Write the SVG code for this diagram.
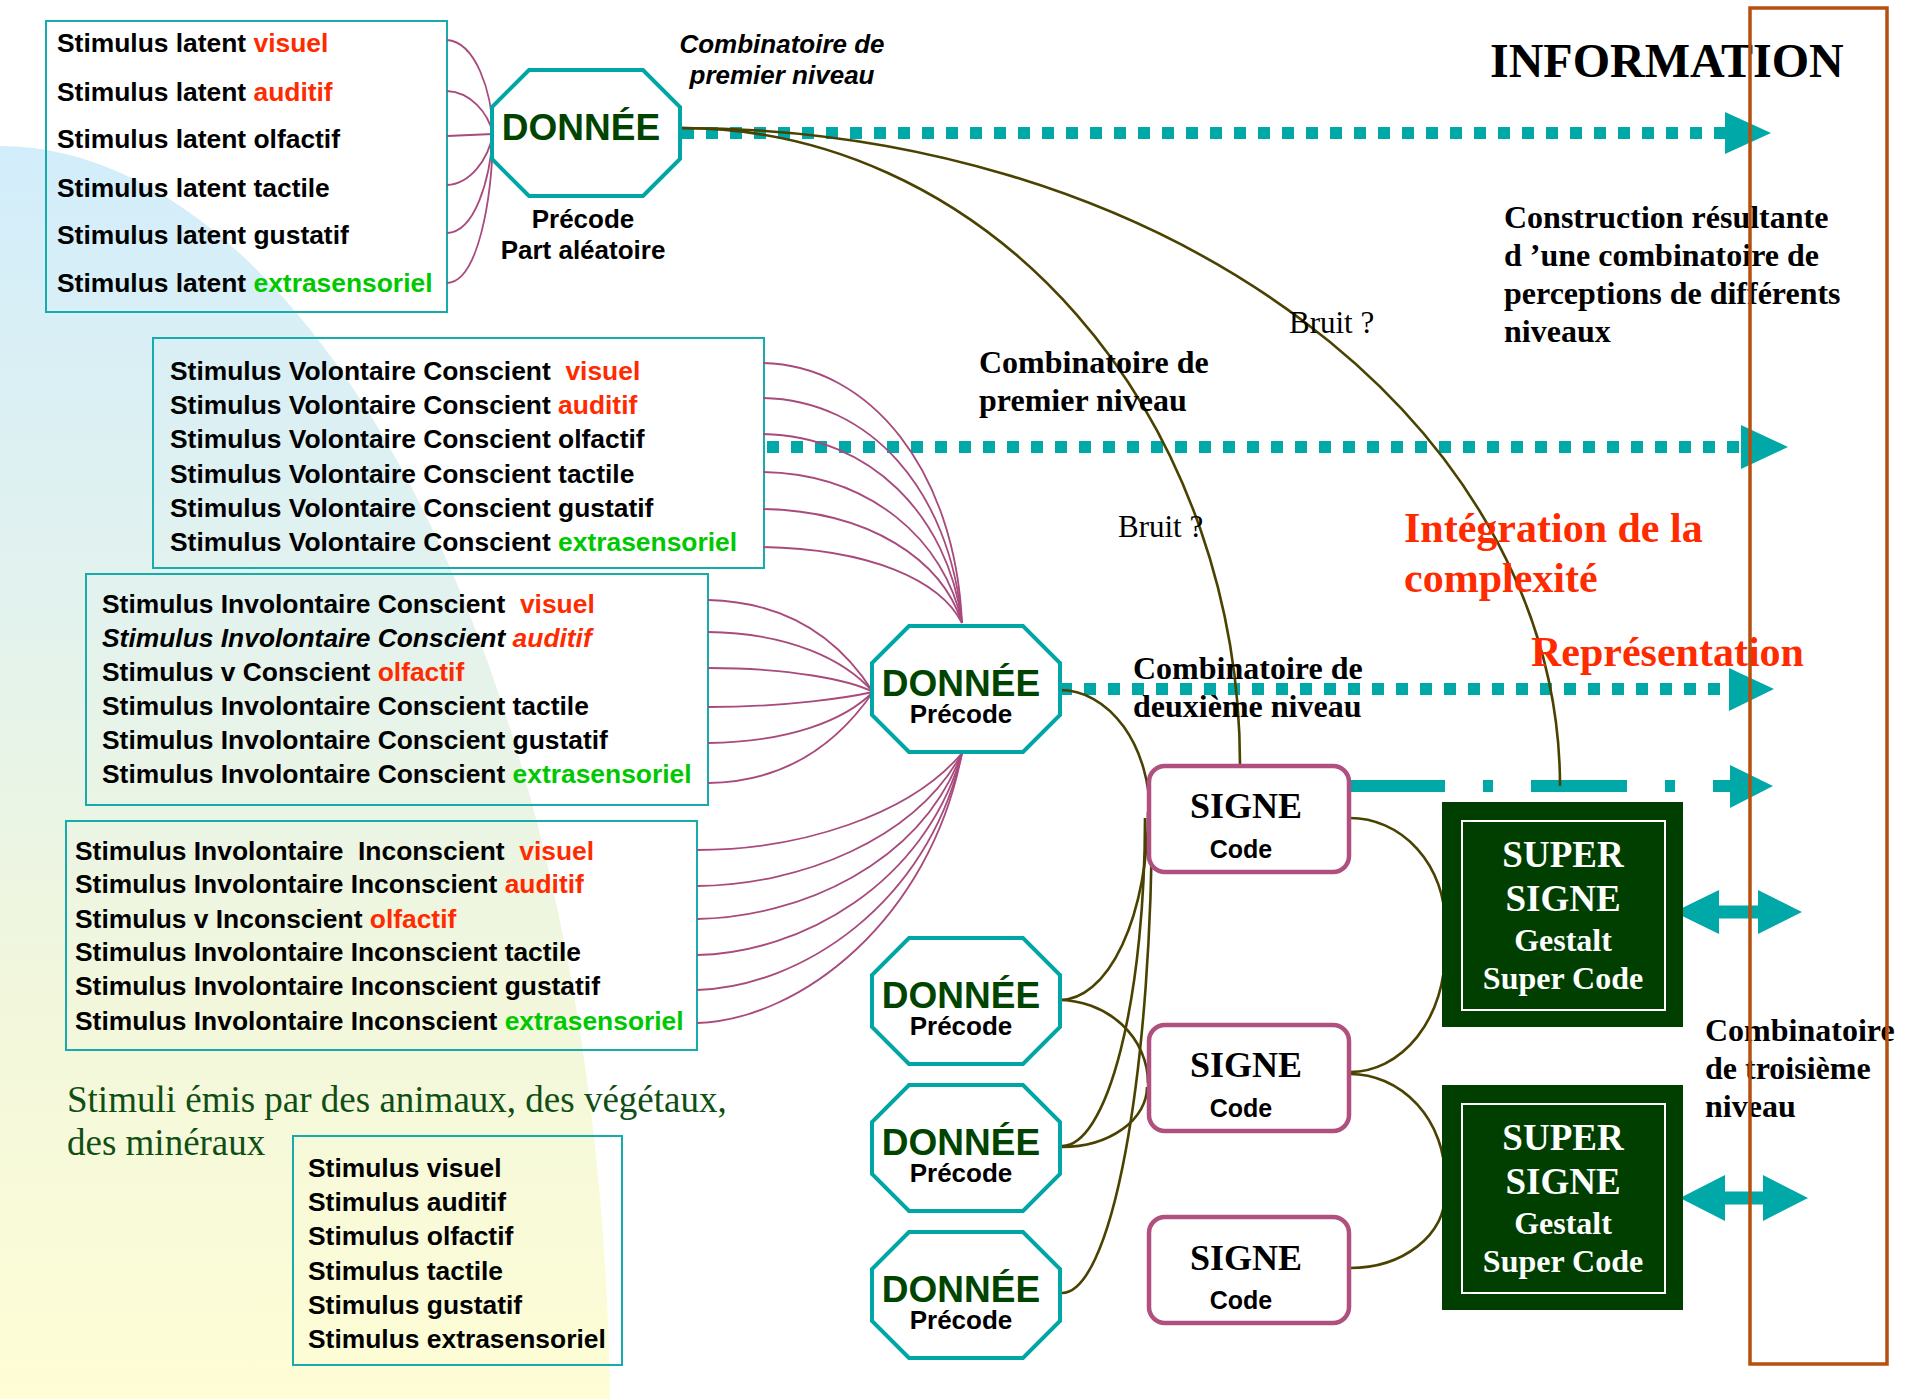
<svg xmlns="http://www.w3.org/2000/svg" xmlns:xlink="http://www.w3.org/1999/xlink" width="1912" height="1399" viewBox="0 0 1912 1399">
<style>
.box{fill:none;stroke:#17abab;stroke-width:2}
.oct{fill:#fff;stroke:#00a6a6;stroke-width:4}
.sig{fill:#fff;stroke:#b0507f;stroke-width:4.5}
.sup{fill:#003f00}
.supin{fill:none;stroke:#fff;stroke-width:2}
.stim{font-family:"Liberation Sans",Arial,sans-serif;font-weight:bold;font-size:26.4px;fill:#000}
.red{fill:#ff2b00}
.grn{fill:#00c800}
.don{font-family:"Liberation Sans",Arial,sans-serif;font-weight:bold;font-size:37px;fill:#004400;text-anchor:middle}
.pre{font-family:"Liberation Sans",Arial,sans-serif;font-weight:bold;font-size:26px;fill:#000;text-anchor:middle}
.code{font-family:"Liberation Sans",Arial,sans-serif;font-weight:bold;font-size:25px;fill:#000;text-anchor:middle}
.signe{font-family:"Liberation Serif","Times New Roman",serif;font-weight:bold;font-size:36px;fill:#000;text-anchor:middle}
.stx1{font-family:"Liberation Serif","Times New Roman",serif;font-weight:bold;font-size:37px;fill:#fff;text-anchor:middle}
.stx2{font-family:"Liberation Serif","Times New Roman",serif;font-weight:bold;font-size:32px;fill:#fff;text-anchor:middle}
.lbl{font-family:"Liberation Serif","Times New Roman",serif;font-weight:bold;font-size:32px;fill:#000}
.bruit{font-family:"Liberation Serif","Times New Roman",serif;font-size:31px;fill:#000}
.redl{font-family:"Liberation Serif","Times New Roman",serif;font-weight:bold;font-size:42px;fill:#ff2b00}
.fan{fill:none;stroke:#a84a7c;stroke-width:1.8}
.olv{fill:none;stroke:#4a4200;stroke-width:2.6}
.dot{fill:none;stroke:#00a8a8;stroke-width:12;stroke-dasharray:12 12}
.dd{fill:none;stroke:#00a8a8;stroke-width:12;stroke-dasharray:96 38 10 38}
.arr{fill:#00a8a8}
</style>
<defs>
<linearGradient id="bg" gradientUnits="userSpaceOnUse" x1="0" y1="146" x2="0" y2="1399">
<stop offset="0" stop-color="#d2edfb"/>
<stop offset="0.36" stop-color="#e2f2ee"/>
<stop offset="0.68" stop-color="#f2f7dc"/>
<stop offset="1" stop-color="#fefdd5"/>
</linearGradient>
<polygon id="oct" points="37,0 151,0 188,37 188,89 151,126 37,126 0,89 0,37"/>
</defs>

<path d="M0,1399 L0,146 C300,146 600,650 610,1399 Z" fill="url(#bg)"/>

<g id="box-latent">
<rect class="box" x="46" y="21" width="401" height="291"/>
<text class="stim" x="57" y="52">Stimulus latent <tspan class="red">visuel</tspan></text>
<text class="stim" x="57" y="101">Stimulus latent <tspan class="red">auditif</tspan></text>
<text class="stim" x="57" y="148">Stimulus latent olfactif</text>
<text class="stim" x="57" y="197">Stimulus latent tactile</text>
<text class="stim" x="57" y="244">Stimulus latent gustatif</text>
<text class="stim" x="57" y="292">Stimulus latent <tspan class="grn">extrasensoriel</tspan></text>
</g>

<g id="box-volontaire-conscient">
<rect class="box" x="153" y="338" width="611" height="230"/>
<text class="stim" x="170" y="380" xml:space="preserve">Stimulus Volontaire Conscient  <tspan class="red">visuel</tspan></text>
<text class="stim" x="170" y="414">Stimulus Volontaire Conscient <tspan class="red">auditif</tspan></text>
<text class="stim" x="170" y="448">Stimulus Volontaire Conscient olfactif</text>
<text class="stim" x="170" y="483">Stimulus Volontaire Conscient tactile</text>
<text class="stim" x="170" y="517">Stimulus Volontaire Conscient gustatif</text>
<text class="stim" x="170" y="551">Stimulus Volontaire Conscient <tspan class="grn">extrasensoriel</tspan></text>
</g>

<g id="box-involontaire-conscient">
<rect class="box" x="86" y="574" width="622" height="231"/>
<text class="stim" x="102" y="613" xml:space="preserve">Stimulus Involontaire Conscient  <tspan class="red">visuel</tspan></text>
<text class="stim" x="102" y="647" font-style="italic">Stimulus Involontaire Conscient <tspan class="red">auditif</tspan></text>
<text class="stim" x="102" y="681">Stimulus v Conscient <tspan class="red">olfactif</tspan></text>
<text class="stim" x="102" y="715">Stimulus Involontaire Conscient tactile</text>
<text class="stim" x="102" y="749">Stimulus Involontaire Conscient gustatif</text>
<text class="stim" x="102" y="783">Stimulus Involontaire Conscient <tspan class="grn">extrasensoriel</tspan></text>
</g>

<g id="box-involontaire-inconscient">
<rect class="box" x="66" y="821" width="631" height="229"/>
<text class="stim" x="75" y="860" xml:space="preserve">Stimulus Involontaire  Inconscient  <tspan class="red">visuel</tspan></text>
<text class="stim" x="75" y="893">Stimulus Involontaire Inconscient <tspan class="red">auditif</tspan></text>
<text class="stim" x="75" y="928">Stimulus v Inconscient <tspan class="red">olfactif</tspan></text>
<text class="stim" x="75" y="961">Stimulus Involontaire Inconscient tactile</text>
<text class="stim" x="75" y="995">Stimulus Involontaire Inconscient gustatif</text>
<text class="stim" x="75" y="1030">Stimulus Involontaire Inconscient <tspan class="grn">extrasensoriel</tspan></text>
</g>

<g id="label-stimuli-emis">
<text x="67" y="1112" font-family="'Liberation Serif','Times New Roman',serif" font-size="37" fill="#0f4f14">Stimuli émis par des animaux, des végétaux,</text>
<text x="67" y="1155" font-family="'Liberation Serif','Times New Roman',serif" font-size="37" fill="#0f4f14">des minéraux</text>
</g>

<g id="box-stimulus">
<rect class="box" x="293" y="1136" width="329" height="229"/>
<text class="stim" x="308" y="1177">Stimulus visuel</text>
<text class="stim" x="308" y="1211">Stimulus auditif</text>
<text class="stim" x="308" y="1245">Stimulus olfactif</text>
<text class="stim" x="308" y="1280">Stimulus tactile</text>
<text class="stim" x="308" y="1314">Stimulus gustatif</text>
<text class="stim" x="308" y="1348">Stimulus extrasensoriel</text>
</g>

<g id="connectors">
<!-- information flows -->
<path class="dot" d="M682,133 H1727"/>
<polygon class="arr" points="1725,112 1771,133 1725,154"/>
<path class="dot" d="M767,447 H1743"/>
<polygon class="arr" points="1741,425 1788,447 1741,469"/>
<path class="dot" d="M1060,689 H1731"/>
<polygon class="arr" points="1729,668 1774,689 1729,711"/>
<path class="dd" d="M1349,786 H1732"/>
<polygon class="arr" points="1730,765 1773,786 1730,808"/>
<polygon class="arr" points="1674,912 1719,890 1719,905.5 1758,905.5 1758,890 1802,912 1758,934 1758,918.5 1719,918.5 1719,934"/>
<polygon class="arr" points="1680,1198 1725,1175 1725,1191.5 1763,1191.5 1763,1175 1808,1198 1763,1221 1763,1204.5 1725,1204.5 1725,1221"/>
<!-- fan latent -> DONNEE 1 -->
<path class="fan" d="M447,40 C475,42 492,90 493,134"/>
<path class="fan" d="M447,91 C470,92 488,112 493,134"/>
<path class="fan" d="M447,136 L493,134"/>
<path class="fan" d="M447,185 C470,184 488,160 493,134"/>
<path class="fan" d="M447,233 C475,232 490,180 493,134"/>
<path class="fan" d="M447,283 C478,282 492,200 493,134"/>
<!-- fan volontaire -> DONNEE 2 top -->
<path class="fan" d="M763,363 C870,365 955,470 962,623"/>
<path class="fan" d="M763,398 C870,400 950,490 962,623"/>
<path class="fan" d="M763,434 C870,436 948,515 962,623"/>
<path class="fan" d="M763,472 C870,474 945,540 962,623"/>
<path class="fan" d="M763,509 C870,511 942,560 962,623"/>
<path class="fan" d="M763,547 C870,549 940,580 962,623"/>
<!-- fan involontaire conscient -> DONNEE 2 left -->
<path class="fan" d="M708,600 C790,602 840,640 873,692"/>
<path class="fan" d="M708,632 C790,633 845,660 873,692"/>
<path class="fan" d="M708,668 C790,668 850,680 873,692"/>
<path class="fan" d="M708,707 C790,707 850,697 873,692"/>
<path class="fan" d="M708,743 C790,742 845,720 873,692"/>
<path class="fan" d="M708,783 C790,782 840,740 873,692"/>
<!-- fan involontaire inconscient -> DONNEE 2 bottom -->
<path class="fan" d="M697,850 C800,850 910,815 962,753"/>
<path class="fan" d="M697,886 C800,885 915,840 962,753"/>
<path class="fan" d="M697,919 C800,917 920,865 962,753"/>
<path class="fan" d="M697,955 C800,953 925,885 962,753"/>
<path class="fan" d="M697,990 C800,987 928,905 962,753"/>
<path class="fan" d="M697,1023 C800,1020 930,920 962,753"/>
<!-- olive links -->
<path class="olv" d="M682,128 A558,637 0 0 1 1240,765"/>
<path class="olv" d="M682,128 A878,658 0 0 1 1560,786"/>
<path class="olv" d="M1060,690 A90,125 0 0 1 1150,815"/>
<path class="olv" d="M1148,812 A88,188 0 0 1 1060,1000"/>
<path class="olv" d="M1145,818 A83,328 0 0 1 1062,1146"/>
<path class="olv" d="M1152,808 A90,485 0 0 1 1062,1293"/>
<path class="olv" d="M1058,1000 A90,83 0 0 1 1148,1083"/>
<path class="olv" d="M1062,1147 A85,60 0 0 0 1147,1087"/>
<path class="olv" d="M1350,818 A95,105 0 0 1 1445,923"/>
<path class="olv" d="M1350,1072 A95,120 0 0 0 1445,952"/>
<path class="olv" d="M1350,1074 A95,104 0 0 1 1445,1178"/>
<path class="olv" d="M1350,1268 A95,73 0 0 0 1445,1195"/>
</g>

<g id="donnee-1">
<use xlink:href="#oct" href="#oct" class="oct" x="492" y="70"/>
<text class="don" x="581" y="140">DONNÉE</text>
<text class="pre" x="583" y="228">Précode</text>
<text class="pre" x="583" y="259">Part aléatoire</text>
</g>
<g id="donnee-2">
<use xlink:href="#oct" href="#oct" class="oct" x="872" y="626"/>
<text class="don" x="961" y="696">DONNÉE</text>
<text class="pre" x="961" y="723">Précode</text>
</g>
<g id="donnee-3">
<use xlink:href="#oct" href="#oct" class="oct" x="872" y="938"/>
<text class="don" x="961" y="1008">DONNÉE</text>
<text class="pre" x="961" y="1035">Précode</text>
</g>
<g id="donnee-4">
<use xlink:href="#oct" href="#oct" class="oct" x="872" y="1085"/>
<text class="don" x="961" y="1155">DONNÉE</text>
<text class="pre" x="961" y="1182">Précode</text>
</g>
<g id="donnee-5">
<use xlink:href="#oct" href="#oct" class="oct" x="872" y="1232"/>
<text class="don" x="961" y="1302">DONNÉE</text>
<text class="pre" x="961" y="1329">Précode</text>
</g>

<g id="signe-1">
<rect class="sig" x="1149" y="766" width="200" height="106" rx="16"/>
<text class="signe" x="1246" y="818">SIGNE</text>
<text class="code" x="1241" y="858">Code</text>
</g>
<g id="signe-2">
<rect class="sig" x="1149" y="1025" width="200" height="106" rx="16"/>
<text class="signe" x="1246" y="1077">SIGNE</text>
<text class="code" x="1241" y="1117">Code</text>
</g>
<g id="signe-3">
<rect class="sig" x="1149" y="1217" width="200" height="106" rx="16"/>
<text class="signe" x="1246" y="1270">SIGNE</text>
<text class="code" x="1241" y="1309">Code</text>
</g>

<g id="super-signe-1">
<rect class="sup" x="1442" y="802" width="241" height="225"/>
<rect class="supin" x="1462" y="821" width="203" height="189"/>
<text class="stx1" x="1563" y="867">SUPER</text>
<text class="stx1" x="1563" y="911">SIGNE</text>
<text class="stx2" x="1563" y="951">Gestalt</text>
<text class="stx2" x="1563" y="989">Super Code</text>
</g>
<g id="super-signe-2">
<rect class="sup" x="1442" y="1085" width="241" height="225"/>
<rect class="supin" x="1462" y="1104" width="203" height="189"/>
<text class="stx1" x="1563" y="1150">SUPER</text>
<text class="stx1" x="1563" y="1194">SIGNE</text>
<text class="stx2" x="1563" y="1234">Gestalt</text>
<text class="stx2" x="1563" y="1272">Super Code</text>
</g>

<g id="labels">
<text x="782" y="53" text-anchor="middle" font-family="'Liberation Sans',Arial,sans-serif" font-weight="bold" font-style="italic" font-size="26">Combinatoire de</text>
<text x="782" y="84" text-anchor="middle" font-family="'Liberation Sans',Arial,sans-serif" font-weight="bold" font-style="italic" font-size="26">premier niveau</text>
<text x="1490" y="77" font-family="'Liberation Serif','Times New Roman',serif" font-weight="bold" font-size="48">INFORMATION</text>
<text class="lbl" x="1504" y="228">Construction résultante</text>
<text class="lbl" x="1504" y="266">d ’une combinatoire de</text>
<text class="lbl" x="1504" y="304">perceptions de différents</text>
<text class="lbl" x="1504" y="342">niveaux</text>
<text class="bruit" x="1289" y="333">Bruit ?</text>
<text class="lbl" x="979" y="373">Combinatoire de</text>
<text class="lbl" x="979" y="411">premier niveau</text>
<text class="bruit" x="1118" y="537">Bruit ?</text>
<text class="redl" x="1404" y="542">Intégration de la</text>
<text class="redl" x="1404" y="592">complexité</text>
<text class="redl" x="1531" y="666">Représentation</text>
<text class="lbl" x="1133" y="679">Combinatoire de</text>
<text class="lbl" x="1133" y="717">deuxième niveau</text>
<text class="lbl" x="1705" y="1041">Combinatoire</text>
<text class="lbl" x="1705" y="1079">de troisième</text>
<text class="lbl" x="1705" y="1117">niveau</text>
</g>

<g id="information-frame">
<rect x="1750" y="8" width="137" height="1356" fill="none" stroke="#b5500f" stroke-width="3.5"/>
</g>
</svg>
